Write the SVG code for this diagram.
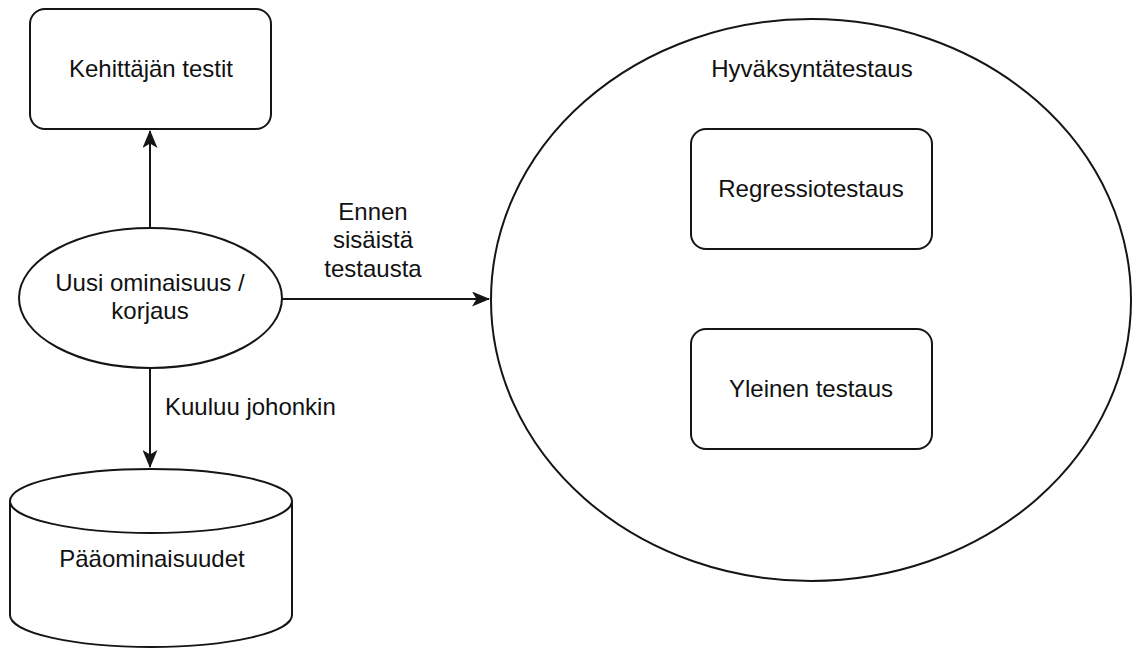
<svg xmlns="http://www.w3.org/2000/svg" width="1133" height="648" viewBox="0 0 1133 648">
  <style>
    .shape { fill: #ffffff; stroke: #151515; stroke-width: 2; }
    .edge { fill: none; stroke: #151515; stroke-width: 2; }
    text { font-family: "Liberation Sans", Arial, sans-serif; font-size: 24px; fill: #111111; }
    .c { text-anchor: middle; }
  </style>
  <defs>
    <marker id="arrow" viewBox="0 0 18 15" refX="17" refY="7.5" markerWidth="18" markerHeight="15" markerUnits="userSpaceOnUse" orient="auto">
      <path d="M0,0 L18,7.5 L0,15 L4.5,7.5 Z" fill="#151515"/>
    </marker>
  </defs>
  <rect width="1133" height="648" fill="#ffffff"/>

  <g id="connectors">
    <line class="edge" x1="150" y1="230" x2="150" y2="131" marker-end="url(#arrow)"/>
    <line class="edge" x1="150" y1="368" x2="150" y2="467" marker-end="url(#arrow)"/>
    <line class="edge" x1="282" y1="299" x2="489" y2="299" marker-end="url(#arrow)"/>
    <text x="165" y="415">Kuuluu johonkin</text>
    <text class="c" x="373" y="220">Ennen</text>
    <text class="c" x="373" y="248">sisäistä</text>
    <text class="c" x="373" y="277">testausta</text>
  </g>

  <g id="kehittajan-testit">
    <rect class="shape" x="30" y="9" width="241" height="120" rx="15" ry="15"/>
    <text class="c" x="151" y="77">Kehittäjän testit</text>
  </g>

  <g id="uusi-ominaisuus">
    <ellipse class="shape" cx="150.5" cy="298" rx="131.5" ry="70"/>
    <text class="c" x="150" y="291">Uusi ominaisuus /</text>
    <text class="c" x="150" y="319">korjaus</text>
  </g>

  <g id="paaominaisuudet">
    <path class="shape" d="M10,501 A141,32 0 0 1 292,501 L292,615 A141,32 0 0 1 10,615 Z"/>
    <path class="edge" d="M10,501 A141,32 0 0 0 292,501"/>
    <text class="c" x="152" y="567">Pääominaisuudet</text>
  </g>

  <g id="hyvaksyntatestaus">
    <ellipse class="shape" cx="811" cy="300" rx="320" ry="281"/>
    <text class="c" x="812" y="77">Hyväksyntätestaus</text>
  </g>

  <g id="regressiotestaus">
    <rect class="shape" x="691" y="129" width="241" height="120" rx="15" ry="15"/>
    <text class="c" x="811" y="197">Regressiotestaus</text>
  </g>

  <g id="yleinen-testaus">
    <rect class="shape" x="691" y="329" width="241" height="120" rx="15" ry="15"/>
    <text class="c" x="811" y="397">Yleinen testaus</text>
  </g>
</svg>
